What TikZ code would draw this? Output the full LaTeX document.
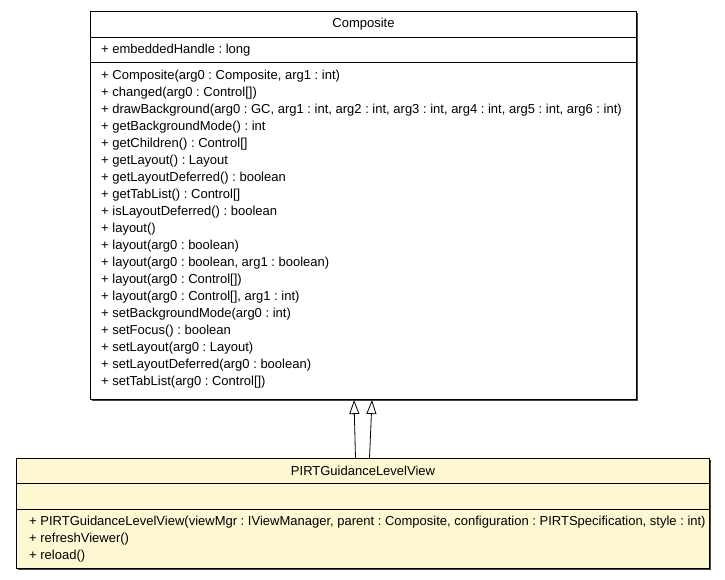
\documentclass[tikz,border=0pt]{standalone}
\usepackage{fontspec}
\setmainfont{Liberation Sans}
\usetikzlibrary{arrows.meta}
\usetikzlibrary{positioning}
\definecolor{classfill}{RGB}{254,248,210}
\definecolor{boxedge}{RGB}{70,70,70}
\frenchspacing

\tikzset{
  compart/.style={draw=black, line width=1pt, fill=#1, inner sep=0pt, anchor=north west},
  member/.style={anchor=north west, align=left, inner sep=0pt},
  inherit/.style={draw=black, line width=0.8pt,
    -{Triangle[length=14pt, width=10pt, fill=white]}},
}

\begin{document}
\begin{tikzpicture}[x=1pt, y=-1pt, font=\fontsize{13}{17}\selectfont]
  \useasboundingbox (0,0) rectangle (725,579);

  % Composite
  \fill[boxedge] (92,13) rectangle (638,401);
  \node[compart=white, minimum width=546pt, minimum height=26pt] (compName) at (90,11) {};
  \node[compart=white, minimum width=546pt, minimum height=25pt] (compAttr) at (90,37) {};
  \node[compart=white, minimum width=546pt, minimum height=337pt] (compOps) at (90,62) {};
  \node (compTitle) at (compName.center) {Composite};
  \node[anchor=west, inner sep=0pt] (compField) at ([xshift=11pt]compAttr.west) {+ embeddedHandle : long};
  \node[member] (compMethods) at (101,70) {+ Composite(arg0 : Composite, arg1 : int)\\
    + changed(arg0 : Control[])\\
    + drawBackground(arg0 : GC, arg1 : int, arg2 : int, arg3 : int, arg4 : int, arg5 : int, arg6 : int)\\
    + getBackgroundMode() : int\\
    + getChildren() : Control[]\\
    + getLayout() : Layout\\
    + getLayoutDeferred() : boolean\\
    + getTabList() : Control[]\\
    + isLayoutDeferred() : boolean\\
    + layout()\\
    + layout(arg0 : boolean)\\
    + layout(arg0 : boolean, arg1 : boolean)\\
    + layout(arg0 : Control[])\\
    + layout(arg0 : Control[], arg1 : int)\\
    + setBackgroundMode(arg0 : int)\\
    + setFocus() : boolean\\
    + setLayout(arg0 : Layout)\\
    + setLayoutDeferred(arg0 : boolean)\\
    + setTabList(arg0 : Control[])};

  % PIRTGuidanceLevelView
  \fill[boxedge] (18,460) rectangle (711,570);
  \node[compart=classfill, minimum width=693pt, minimum height=25pt] (viewName) at (16,458) {};
  \node[compart=classfill, minimum width=693pt, minimum height=26pt] (viewAttr) at (16,483) {};
  \node[compart=classfill, minimum width=693pt, minimum height=59pt] (viewOps) at (16,509) {};
  \node (viewTitle) at (viewName.center) {PIRTGuidanceLevelView};
  \node[member] (viewMethods) at (29,516) {+ PIRTGuidanceLevelView(viewMgr : IViewManager, parent : Composite, configuration : PIRTSpecification, style : int)\\
    + refreshViewer()\\
    + reload()};

  % generalization
  \draw[inherit] ([xshift=-7.5pt]viewName.north) -- ([xshift=-9.5pt]compOps.south);
  \draw[inherit] ([xshift=6.5pt]viewName.north) -- ([xshift=8.5pt]compOps.south);
\end{tikzpicture}
\end{document}
